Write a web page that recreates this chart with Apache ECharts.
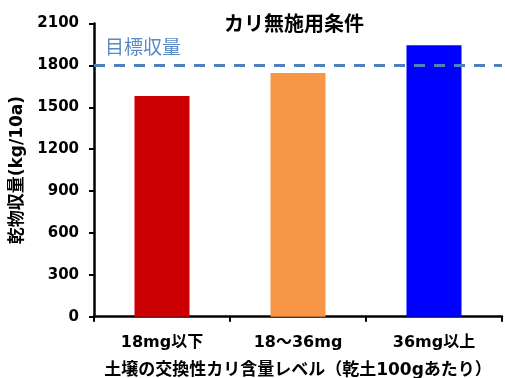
<!DOCTYPE html>
<html>
<head>
<meta charset="utf-8">
<script src="https://cdn.jsdelivr.net/npm/echarts@6/dist/echarts.min.js"></script>
<style>
  html, body { margin: 0; padding: 0; background: #fff; }
  #chart { width: 505px; height: 378px; }
</style>
</head>
<body>
<div id="chart"></div>
<script>
// Dry-matter yield by soil exchangeable potassium level (no potash applied)
const categories = ['18mg以下', '18～36mg', '36mg以上'];
const yieldValues = [1580, 1745, 1945];
const barColors = ['#CC0000', '#F79646', '#0000FF'];
const targetYield = 1800;
const yTicks = { min: 0, max: 2100, interval: 300 };

const FONT = "'DejaVu Sans', 'Noto Sans CJK JP', sans-serif";

const chart = echarts.init(document.getElementById('chart'), null, { renderer: 'canvas' });

chart.setOption({
  animation: false,
  backgroundColor: '#ffffff',
  title: {
    text: 'カリ無施用条件',
    left: 219,
    top: 11,
    textStyle: { fontFamily: FONT, fontSize: 20, fontWeight: 'bold', color: '#000' }
  },
  grid: { left: 94, right: 3, top: 23.5, bottom: 61.3, containLabel: false, outerBoundsMode: 'none' },
  xAxis: {
    type: 'category',
    data: categories,
    boundaryGap: true,
    name: '土壌の交換性カリ含量レベル（乾土100gあたり）',
    nameLocation: 'middle',
    nameGap: 45,
    nameTextStyle: { fontFamily: FONT, fontSize: 17, fontWeight: 'bold', color: '#000' },
    axisLine: { lineStyle: { color: '#000', width: 2.5 } },
    axisTick: { show: true, length: 5, lineStyle: { color: '#000', width: 2 } },
    axisLabel: { margin: 18, fontFamily: FONT, fontSize: 16, fontWeight: 'bold', color: '#000' },
    splitLine: { show: false }
  },
  yAxis: {
    type: 'value',
    min: yTicks.min,
    max: yTicks.max,
    interval: yTicks.interval,
    name: '乾物収量(kg/10a)',
    nameLocation: 'middle',
    nameRotate: 90,
    nameGap: 67,
    nameTextStyle: { fontFamily: FONT, fontSize: 17, fontWeight: 'bold', color: '#000' },
    axisLine: { show: true, lineStyle: { color: '#000', width: 2.5 } },
    axisTick: { show: true, length: 5, lineStyle: { color: '#000', width: 2 } },
    axisLabel: {
      margin: 15,
      formatter: (v) => String(v),
      fontFamily: FONT, fontSize: 15, fontWeight: 'bold', color: '#000'
    },
    splitLine: { show: false }
  },
  series: [{
    type: 'bar',
    barWidth: 55,
    data: yieldValues.map((v, i) => ({ value: v, itemStyle: { color: barColors[i] } })),
    markLine: {
      silent: true,
      symbol: 'none',
      z: 10,
      lineStyle: { color: '#4F81BD', width: 3, type: [11, 9] },
      label: {
        show: true,
        position: 'insideStartTop',
        formatter: '目標収量',
        distance: [11, 7],
        fontFamily: FONT,
        fontSize: 19,
        color: '#5A8AC6'
      },
      data: [{ yAxis: targetYield }]
    }
  }]
});
</script>
</body>
</html>
